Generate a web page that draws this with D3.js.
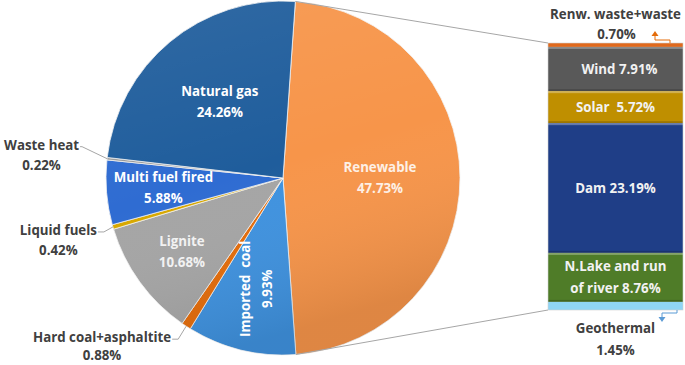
<!DOCTYPE html>
<html>
<head>
<meta charset="utf-8">
<script src="https://cdn.jsdelivr.net/npm/d3@7"></script>
<style>
  html, body { margin: 0; padding: 0; background: #fff; }
  svg { display: block; font-family: "Open Sans", Lato, sans-serif; font-weight: 700; }
</style>
</head>
<body>
<div id="chart"></div>
<script>
// pie: generation share by source (%), clockwise from the top
var pieNames  = ["Renewable", "Imported  coal", "Hard coal+asphaltite", "Lignite",
                 "Liquid fuels", "Multi fuel fired", "Waste heat", "Natural gas"];
var pieValues = [47.73, 9.93, 0.88, 10.68, 0.42, 5.88, 0.22, 24.26];

// bar: breakdown of renewable (%), top to bottom
var barNames  = ["Renw. waste+waste", "Wind", "Solar", "Dam", "N.Lake and run of river", "Geothermal"];
var barValues = [0.70, 7.91, 5.72, 23.19, 8.76, 1.45];

(function () {
    var W = 685, H = 365;
    var cx = 283, cy = 178, R = 177;
    var startA = 4 * Math.PI / 180;
    var FS = 13.3;

    var pieColors = {
        "Renewable": "#f7954a", "Imported  coal": "#3f92df", "Hard coal+asphaltite": "#e46c0a",
        "Lignite": "#a5a5a5", "Liquid fuels": "#d8a800", "Multi fuel fired": "#2f6cd2",
        "Waste heat": "#9a9a9a", "Natural gas": "#1f5d9c"
    };
    var barColors = ["#e0691c", "#595959", "#bf8f00", "#1f3e87", "#4f7c28", "#8fd5f5"];

    // inside-label radius per slice (px from centre)
    var inLabelR = { "Renewable": 97, "Natural gas": 99, "Multi fuel fired": 120,
                     "Lignite": 125, "Imported  coal": 114 };
    // outside labels: elbow offset from slice edge, then short horizontal tail
    var outLabel = {
        "Waste heat":           { elbow: [-25, -12], tail: -2, gap: 20 },
        "Liquid fuels":         { elbow: [-9, 5],    tail: -6, gap: 20 },
        "Hard coal+asphaltite": { elbow: [-8, 13],   tail: -6, gap: 18 }
    };

    var svg = d3.select("#chart").append("svg")
        .attr("width", W).attr("height", H);

    var defs = svg.append("defs");
    var shade = defs.append("linearGradient")
        .attr("id", "pie-shade").attr("x1", 0).attr("y1", 0).attr("x2", 0.3).attr("y2", 1);
    shade.append("stop").attr("offset", "0%").attr("stop-color", "#fff").attr("stop-opacity", 0.08);
    shade.append("stop").attr("offset", "55%").attr("stop-color", "#fff").attr("stop-opacity", 0);
    shade.append("stop").attr("offset", "100%").attr("stop-color", "#000").attr("stop-opacity", 0.1);

    var pie = d3.pie().sort(null).value(function (d) { return d; })
        .startAngle(startA).endAngle(startA + 2 * Math.PI);
    var arcs = pie(pieValues);
    var arc = d3.arc().innerRadius(0).outerRadius(R);

    var g = svg.append("g").attr("transform", "translate(" + cx + "," + cy + ")");

    // connector lines from renewable slice to the bar
    var y = d3.scaleLinear().domain([0, d3.sum(barValues)]).range([43, 310]);
    var barX = 548, barW = 135;
    var ren = arcs[0];
    function edgePt(a, r) { return [cx + r * Math.sin(a), cy - r * Math.cos(a)]; }
    var pTop = edgePt(ren.startAngle, R), pBot = edgePt(ren.endAngle, R);
    svg.append("line").attr("x1", pTop[0]).attr("y1", pTop[1]).attr("x2", barX).attr("y2", y(0))
        .attr("stroke", "#a6a6a6").attr("stroke-width", 1);
    svg.append("line").attr("x1", pBot[0]).attr("y1", pBot[1]).attr("x2", barX).attr("y2", y(d3.sum(barValues)))
        .attr("stroke", "#a6a6a6").attr("stroke-width", 1);

    g.selectAll("path.slice").data(arcs).enter().append("path")
        .attr("class", "slice")
        .attr("d", arc)
        .attr("fill", function (d, i) { return pieColors[pieNames[i]]; })
        .attr("stroke", "#f2f2f2").attr("stroke-width", 0.8).attr("stroke-linejoin", "round");

    g.append("circle").attr("r", R).attr("fill", "url(#pie-shade)").attr("pointer-events", "none");

    // inside labels
    arcs.forEach(function (d, i) {
        var name = pieNames[i];
        var lr = inLabelR[name];
        if (!lr) return;
        var c = d3.arc().innerRadius(lr).outerRadius(lr).centroid(d);
        var col = name === "Renewable" ? "#fdf0e6" : (name === "Lignite" ? "#f2f2f2" : "#fff");
        var t = g.append("text")
            .attr("text-anchor", "middle")
            .attr("font-size", FS)
            .attr("fill", col);
        if (name === "Imported  coal") {
            t.attr("transform", "translate(" + c[0] + "," + c[1] + ") rotate(-90)")
                .style("white-space", "pre");
            t.append("tspan").attr("x", 0).attr("y", -6).text(name);
            t.append("tspan").attr("x", 0).attr("y", 16).text(d3.format(".2f")(pieValues[i]) + "%");
        } else {
            t.append("tspan").attr("x", c[0]).attr("y", c[1] - 6).text(name);
            t.append("tspan").attr("x", c[0]).attr("y", c[1] + 15).text(d3.format(".2f")(pieValues[i]) + "%");
        }
    });

    // outside labels with leader lines
    arcs.forEach(function (d, i) {
        var name = pieNames[i];
        var o = outLabel[name];
        if (!o) return;
        var mid = (d.startAngle + d.endAngle) / 2;
        var p0 = edgePt(mid, R);
        var p1 = [p0[0] + o.elbow[0], p0[1] + o.elbow[1]];
        var p2 = [p1[0] + o.tail, p1[1]];
        svg.append("polyline")
            .attr("points", [p0, p1, p2].map(function (p) { return p.join(","); }).join(" "))
            .attr("fill", "none").attr("stroke", "#a6a6a6").attr("stroke-width", 1);
        var tx = svg.append("text").attr("font-size", FS).attr("fill", "#404040");
        tx.append("tspan").attr("x", p2[0] - 1).attr("y", p2[1] + 3).attr("text-anchor", "end").text(name);
        var nameW = tx.node().getComputedTextLength();
        tx.append("tspan").attr("x", p2[0] - 1 - nameW / 2).attr("y", p2[1] + 3 + o.gap)
            .attr("text-anchor", "middle").text(d3.format(".2f")(pieValues[i]) + "%");
    });

    // stacked bar
    var ends = d3.cumsum(barValues);
    var segs = barValues.map(function (v, i) {
        return { name: barNames[i], v: v, y0: y(ends[i] - v), y1: y(ends[i]), c: barColors[i] };
    });
    var bar = svg.append("g");
    bar.selectAll("rect.seg").data(segs).enter().append("rect")
        .attr("class", "seg")
        .attr("x", barX).attr("width", barW)
        .attr("y", function (d) { return d.y0; })
        .attr("height", function (d) { return d.y1 - d.y0; })
        .attr("fill", function (d) { return d.c; });
    // bevel highlight / shadow strips
    bar.selectAll("rect.hi").data(segs.filter(function (d) { return d.y1 - d.y0 > 10; })).enter().append("rect")
        .attr("x", barX).attr("width", barW)
        .attr("y", function (d) { return d.y0; }).attr("height", 2)
        .attr("fill", "#fff").attr("opacity", 0.3);
    bar.selectAll("rect.lo").data(segs.filter(function (d) { return d.y1 - d.y0 > 10; })).enter().append("rect")
        .attr("x", barX).attr("width", barW)
        .attr("y", function (d) { return d.y1 - 2; }).attr("height", 2)
        .attr("fill", "#000").attr("opacity", 0.18);
    bar.append("rect").attr("x", barX).attr("y", y(0)).attr("width", barW)
        .attr("height", y(d3.sum(barValues)) - y(0))
        .attr("fill", "none").attr("stroke", "#d0d0d0").attr("stroke-width", 0.6);

    var bx = barX + barW / 2;
    segs.forEach(function (d, i) {
        var pct = d3.format(".2f")(d.v) + "%";
        if (i === 0 || i === segs.length - 1) return;
        var mid = (d.y0 + d.y1) / 2;
        var t = bar.append("text").attr("text-anchor", "middle").attr("font-size", FS)
            .attr("fill", "#f2f2f2").style("white-space", "pre");
        if (d.name === "N.Lake and run of river") {
            t.append("tspan").attr("x", bx).attr("y", mid - 6).text("N.Lake and run");
            t.append("tspan").attr("x", bx).attr("y", mid + 16).text("of river " + pct);
        } else {
            var sep = d.name === "Solar" ? "  " : " ";
            t.append("tspan").attr("x", bx + (d.name === "Wind" ? 4 : 0)).attr("y", mid + 5).text(d.name + sep + pct);
        }
    });

    // small segments: labels outside with bent arrows
    function ext(d, above, col) {
        var pct = d3.format(".2f")(d.v) + "%";
        var t = svg.append("text").attr("text-anchor", "middle").attr("font-size", FS).attr("fill", "#404040");
        if (above) {
            t.append("tspan").attr("x", bx).attr("y", d.y0 - 24).text(d.name);
            t.append("tspan").attr("x", bx + 1).attr("y", d.y0 - 4).text(pct);
        } else {
            t.append("tspan").attr("x", bx).attr("y", d.y1 + 23).text(d.name);
            t.append("tspan").attr("x", bx).attr("y", d.y1 + 45).text(pct);
        }
        var sx = above ? barX + barW - 13 : barX + barW - 6;
        var sy = above ? d.y0 : d.y1;
        var dir = above ? -1 : 1;
        var ax = sx - 15;
        var pts = [[sx, sy], [sx, sy + dir * 3], [ax, sy + dir * 3], [ax, sy + dir * 8]];
        svg.append("polyline")
            .attr("points", pts.map(function (p) { return p.join(","); }).join(" "))
            .attr("fill", "none").attr("stroke", col).attr("stroke-width", 1);
        var tipY = sy + dir * 12;
        svg.append("path")
            .attr("d", "M" + ax + "," + tipY + "L" + (ax - 3.5) + "," + (tipY - dir * 5) + "L" + (ax + 3.5) + "," + (tipY - dir * 5) + "Z")
            .attr("fill", col);
    }
    ext(segs[0], true, "#e46c0a");
    ext(segs[segs.length - 1], false, "#5b9bd5");
}());
</script>
</body>
</html>
